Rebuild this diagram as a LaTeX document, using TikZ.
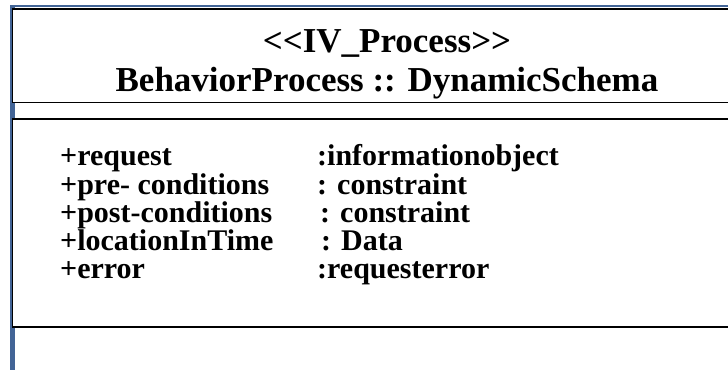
\documentclass[tikz,border=0pt]{standalone}
\usepackage{fontspec}
\setmainfont{Liberation Serif}
\definecolor{edgeblue}{RGB}{66,100,150}

\begin{document}
\begin{tikzpicture}[x=1pt,y=-1pt,
    title/.style={anchor=base,font=\fontsize{35}{38}\selectfont\bfseries,inner sep=0pt},
    attr/.style={anchor=base west,font=\fontsize{30}{31}\selectfont\bfseries,inner sep=0pt}]
        \useasboundingbox (0,0) rectangle (728,370);
        % blue edge behind the class box
        \fill[edgeblue] (10,5) rectangle (15,370);
        \fill[edgeblue] (10,5) rectangle (740,7);
        % name compartment
        \draw[line width=1.5pt, fill=white] (12.5,9) rectangle (740,102.5);
        \node[title] (stereo) at (387,52) {{<}{<}IV\_Process{>}{>}};
        \node[title] (name) at (387,91) {BehaviorProcess :: DynamicSchema};
        % attribute compartment
        \draw[line width=1.5pt, fill=white] (12.5,119) rectangle (740,327);
        \node[attr] (req) at (60,165) {+request};
        \node[attr] (pre) at (60,194) {+pre- conditions};
        \node[attr] (post) at (60,222) {+post-conditions};
        \node[attr] (loc) at (60,250) {+locationInTime};
        \node[attr] (err) at (60,278) {+error};
        \node[attr] (reqt) at (317,165) {:informationobject};
        \node[attr] (pret) at (317,194) {: constraint};
        \node[attr] (postt) at (320,222) {: constraint};
        \node[attr] (loct) at (321,250) {: Data};
        \node[attr] (errt) at (317,278) {:requesterror};
    \end{tikzpicture}
\end{document}
